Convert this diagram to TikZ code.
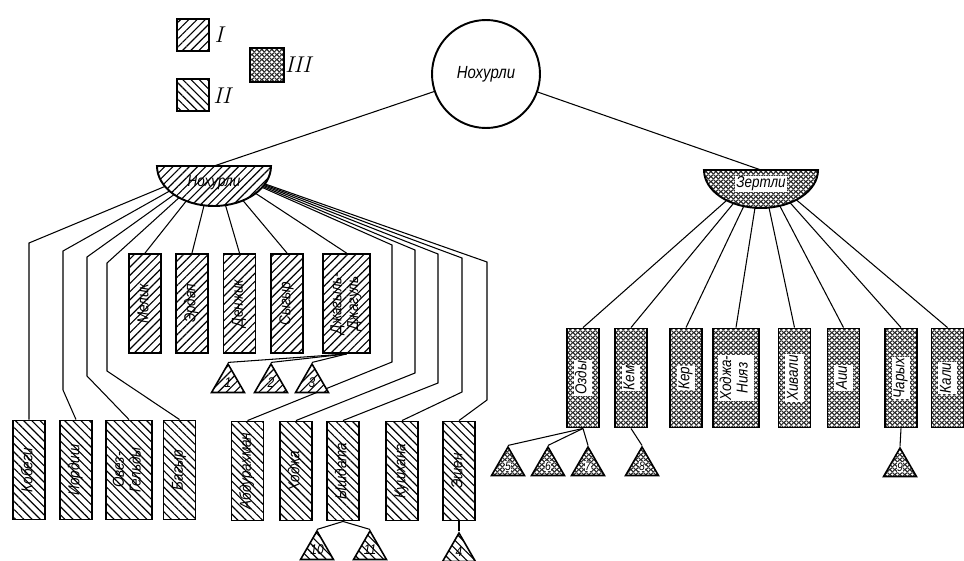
\documentclass[tikz,border=0pt]{standalone}
\usepackage{fontspec}
\newfontfamily\lf{Liberation Sans}[FakeStretch=0.85]
\usetikzlibrary{patterns,patterns.meta,shapes.geometric}
\pgfdeclarelayer{bg}
\pgfsetlayers{bg,main}
\pgfdeclarepatterninherentlycolored{mesh}{\pgfpointorigin}{\pgfqpoint{3pt}{3pt}}{\pgfqpoint{3pt}{3pt}}{%
 \pgfsetfillcolor{black!85}\pgfpathrectangle{\pgfpointorigin}{\pgfqpoint{3pt}{3pt}}\pgfusepath{fill}%
 \pgfsetfillcolor{white}%
 \pgfpathcircle{\pgfqpoint{1.5pt}{1.5pt}}{0.9pt}%
 \pgfpathcircle{\pgfqpoint{0pt}{0pt}}{0.9pt}%
 \pgfpathcircle{\pgfqpoint{3pt}{0pt}}{0.9pt}%
 \pgfpathcircle{\pgfqpoint{0pt}{3pt}}{0.9pt}%
 \pgfpathcircle{\pgfqpoint{3pt}{3pt}}{0.9pt}%
 \pgfusepath{fill}}
\newcommand\bl[1]{\rotatebox{90}{\lf\itshape\fontsize{9}{9.5}\selectfont\begin{tabular}{@{}c@{}}#1\end{tabular}}}
\newcommand\bw[1]{\rotatebox{90}{\setlength\fboxsep{0.6pt}\colorbox{white}{\lf\itshape\fontsize{9}{9.5}\selectfont\begin{tabular}{@{}c@{}}#1\end{tabular}}}}
\newcommand\tl[1]{\lf\itshape\fontsize{8}{8}\selectfont #1}
\newcommand\tw[1]{\setlength\fboxsep{0.3pt}\colorbox{white}{\lf\itshape\fontsize{7}{7}\selectfont #1}}
\begin{document}
\begin{tikzpicture}[x=0.02cm,y=-0.02cm,
  pI/.style={pattern={Lines[angle=45,distance=3.3pt,line width=0.65pt]}},
  pII/.style={pattern={Lines[angle=-45,distance=3.3pt,line width=0.65pt]}},
  pIII/.style={pattern=mesh},
  box/.style={draw, line width=1.1pt, minimum width=0.64cm, minimum height=1.98cm, inner sep=0pt, preaction={fill=white}},
  wbox/.style={box, minimum width=0.93cm},
  tri/.style={draw, line width=0.9pt, regular polygon, regular polygon sides=3, minimum size=0.76cm, inner sep=0pt, preaction={fill=white}},
  legbox/.style={draw, line width=1.1pt, minimum size=0.64cm, inner sep=0pt, preaction={fill=white}},
  legtxt/.style={font=\itshape\fontsize{13}{13}\selectfont},
  link/.style={line width=0.6pt},
  shell/.style={line width=1.1pt, preaction={fill=white}}]
\useasboundingbox (0,0) rectangle (964,561);

% legend
\node[legbox,pI] (lgI) at (193,35) {};
\node[legtxt] (lgIt) at (219,35) {I};
\node[legbox,pII] (lgII) at (193,95) {};
\node[legtxt] (lgIIt) at (222,96) {II};
\node[legbox,pIII,minimum size=0.68cm] (lgIII) at (267,65) {};
\node[legtxt] (lgIIIt) at (298,65) {III};

% top circle
\node[circle, draw, line width=1.1pt, minimum size=2.16cm, fill=white] (top) at (486,74) {\lf\itshape\fontsize{10}{10}\selectfont Нохурли};

% half ellipses
\coordinate (hL) at (214,166);
\coordinate (hR) at (761,170);
\draw[shell,pI] (271,166) .. controls (271,188.1) and (245.5,206) .. (214,206) .. controls (182.5,206) and (157,188.1) .. (157,166) -- cycle;
\node (hLt) at (214,183) {\lf\itshape\fontsize{9}{9}\selectfont Нохурли};
\draw[shell,pIII] (818,170) .. controls (818,191) and (792.5,208) .. (761,208) .. controls (729.5,208) and (704,191) .. (704,170) -- cycle;
\node[fill=white, inner sep=0.6pt] (hRt) at (761,184) {\lf\itshape\fontsize{9}{9}\selectfont Зертли};

% middle row (I)
\node[box,pI] (mel) at (145,303.5) {\bl{Мелик}};
\node[box,pI] (erd) at (192,303.5) {\bl{Эрдап}};
\node[box,pI] (den) at (239.5,303.5) {\bl{Денжик}};
\node[box,pI] (syg) at (287,303.5) {\bl{Сыгыр}};
\node[wbox,pI] (jj) at (346.5,303.5) {\bl{Джагыль-\\Джагуль}};

\node[tri,pI] (t1) at (228,383) {\tl{1}};
\node[tri,pI] (t2) at (271,383) {\tl{2}};
\node[tri,pI] (t3) at (312,383) {\tl{3}};

% bottom row left (II)
\node[box,pII] (kob) at (29,470) {\bl{Кобеги}};
\node[box,pII] (ior) at (76,470) {\bl{Иордиш}};
\node[wbox,pII] (ovz) at (129,470) {\bl{Овез-\\Гельды}};
\node[box,pII] (bag) at (179.5,470) {\bl{Багыр}};

% bottom row middle (II)
\node[box,pII] (abd) at (247.5,471) {\bl{Абдурахман}};
\node[box,pII] (hod) at (296,471) {\bl{Ходжа}};
\node[box,pII] (ysh) at (343,471) {\bl{Ышдата}};
\node[box,pII] (kus) at (402,471) {\bl{Кушхана}};
\node[box,pII] (esh) at (459,471) {\bl{Эшен}};

\node[tri,pII] (t10) at (317,550) {\tl{10}};
\node[tri,pII] (t11) at (370,550) {\tl{11}};
\node[tri,pII] (t4) at (459,552) {\tl{4}};

% right row (III)
\node[box,pIII] (ozd) at (583,378) {\bw{Озды}};
\node[box,pIII] (kem) at (631,378) {\bw{Кем}};
\node[box,pIII] (ker) at (686,378) {\bw{Кер}};
\node[wbox,pIII] (hn) at (736,378) {\bw{Ходжа-\\Нияз}};
\node[box,pIII] (hiv) at (794.5,378) {\bw{Хивали}};
\node[box,pIII] (ain) at (843.5,378) {\bw{Аии}};
\node[box,pIII] (cha) at (901,378) {\bw{Чарых}};
\node[box,pIII] (kal) at (947.5,378) {\bw{Кали}};

\node[tri,pIII] (t5) at (508,466) {\tw{5}};
\node[tri,pIII] (t6) at (548,466) {\tw{6}};
\node[tri,pIII] (t7) at (588,466) {\tw{7}};
\node[tri,pIII] (t8) at (642,466) {\tw{8}};
\node[tri,pIII] (t9) at (900,467) {\tw{9}};

\begin{pgfonlayer}{bg}
\fill[white] (0,0) rectangle (964,561);
\draw[link] (top) -- (hL);
\draw[link] (top) -- (hR);
% left half ellipse
\foreach \b in {mel,erd,den,syg,jj} \draw[link] (hL) -- (\b.north);
\draw[link] (hL) -- (29,243) -- (kob.north);
\draw[link] (hL) -- (63,251) -- (63,390) -- (ior.north);
\draw[link] (hL) -- (87,257) -- (87,376) -- (ovz.north);
\draw[link] (hL) -- (107,263) -- (107,371) -- (bag.north);
\draw[link] (hL) -- (392,245) -- (392,362) -- (abd.north);
\draw[link] (hL) -- (415,250) -- (415,373) -- (hod.north);
\draw[link] (hL) -- (438,254) -- (438,383) -- (ysh.north);
\draw[link] (hL) -- (462,258) -- (462,392) -- (kus.north);
\draw[link] (hL) -- (487,262) -- (487,400) -- (esh.north);
% triangles
\foreach \t in {t1,t2,t3} \draw[link] (jj.south) -- (\t.corner 1);
\foreach \t in {t10,t11} \draw[link] (ysh.south) -- (\t.corner 1);
\draw[link] (esh.south) -- (t4.corner 1);
% right half ellipse
\foreach \b in {ozd,kem,ker,hn,hiv,ain,cha,kal} \draw[link] (hR) -- (\b.north);
\foreach \t in {t5,t6,t7} \draw[link] (ozd.south) -- (\t.corner 1);
\draw[link] (kem.south) -- (t8.corner 1);
\draw[link] (cha.south) -- (t9.corner 1);
\end{pgfonlayer}
\end{tikzpicture}
\end{document}
